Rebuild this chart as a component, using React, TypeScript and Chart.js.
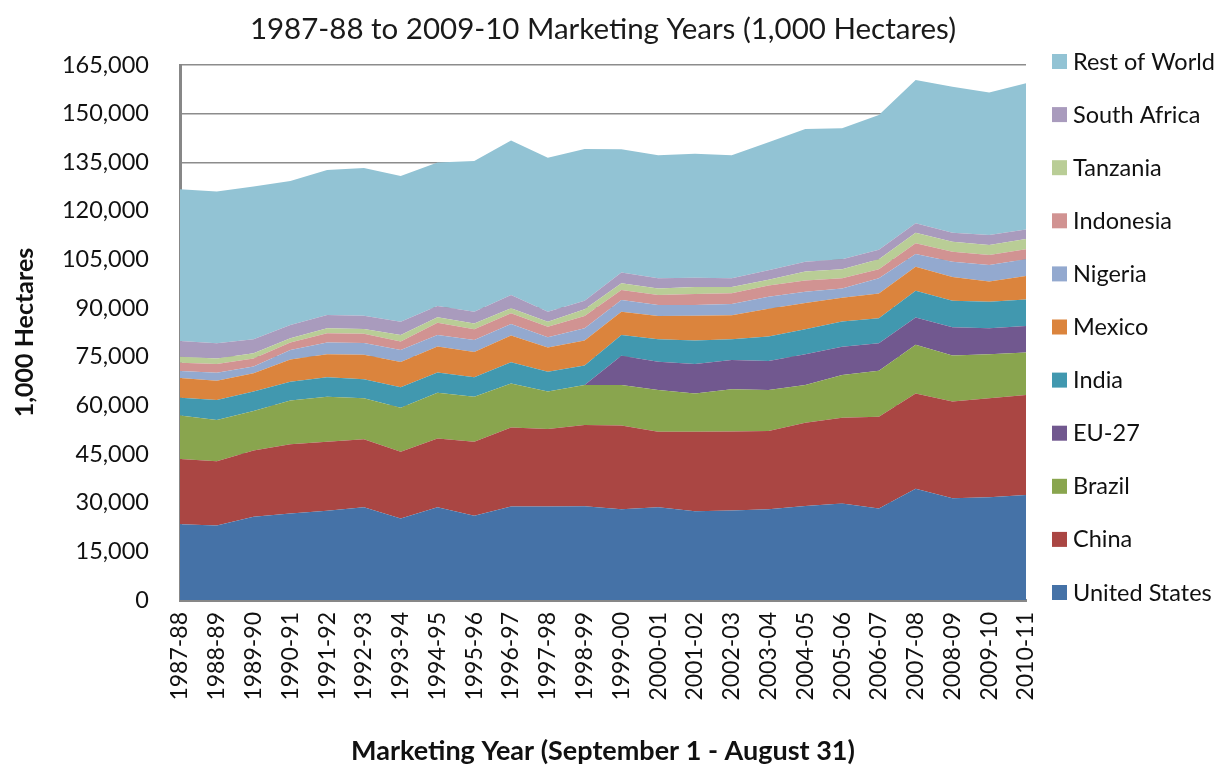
import React, { useEffect, useRef } from "react";
import { Chart, registerables } from "chart.js";

Chart.register(...registerables);

const categories = [
  "1987-88", "1988-89", "1989-90", "1990-91", "1991-92", "1992-93", "1993-94", "1994-95",
  "1995-96", "1996-97", "1997-98", "1998-99", "1999-00", "2000-01", "2001-02", "2002-03",
  "2003-04", "2004-05", "2005-06", "2006-07", "2007-08", "2008-09", "2009-10", "2010-11",
];

// values in 1,000 hectares
const unitedStates = [23400, 23000, 25700, 26700, 27500, 28600, 25100, 28600, 26000, 28800, 28800, 28900, 28000, 28600, 27400, 27600, 28000, 29000, 29800, 28200, 34300, 31400, 31700, 32400];
const china = [20100, 19800, 20400, 21300, 21300, 21000, 20600, 21200, 22800, 24400, 23900, 25100, 25800, 23300, 24500, 24400, 24100, 25700, 26400, 28300, 29400, 29800, 30500, 30800];
const brazil = [13400, 12700, 12200, 13500, 13900, 12600, 13600, 14100, 13900, 13600, 11600, 12300, 12500, 12900, 11800, 13000, 12700, 11600, 13200, 14200, 15000, 14200, 13600, 13100];
const eu27 = [0, 0, 0, 0, 0, 0, 0, 0, 0, 0, 0, 0, 9000, 8700, 9100, 9000, 8900, 9500, 8700, 8500, 8400, 8700, 8000, 8200];
const india = [5500, 6200, 6000, 5800, 6000, 5900, 6300, 6300, 6000, 6500, 6100, 6000, 6400, 6900, 7200, 6400, 7600, 7700, 7800, 7700, 8300, 8200, 8200, 8200];
const mexico = [6100, 5900, 5600, 6900, 7100, 7500, 7800, 8000, 7800, 8300, 7500, 7700, 7200, 7200, 7700, 7400, 8500, 8100, 7300, 7600, 7400, 7300, 6200, 7200];
const nigeria = [2100, 2500, 2100, 2900, 3600, 3700, 3700, 3500, 3700, 3500, 3100, 3800, 3600, 3400, 3300, 3500, 3700, 3500, 2900, 4700, 3900, 4700, 5100, 5200];
const indonesia = [2600, 2700, 2500, 2300, 2900, 2800, 2600, 3800, 3300, 3300, 3300, 3800, 3100, 3100, 3400, 3300, 3500, 3400, 3100, 2800, 3300, 3100, 3100, 3100];
const tanzania = [1800, 1700, 1600, 1300, 1500, 1500, 2000, 1700, 1800, 1600, 1500, 2100, 2100, 2000, 2100, 1900, 1800, 2800, 2800, 3100, 3300, 3100, 3100, 3100];
const southAfrica = [4900, 4700, 4300, 4100, 4100, 4100, 4100, 3500, 3600, 4100, 3100, 2600, 3300, 3100, 2900, 2700, 2900, 3000, 3100, 2900, 2900, 2800, 3100, 3000];
const restOfWorld = [46800, 46800, 47100, 44400, 44700, 45500, 45000, 44200, 46500, 47600, 47500, 46800, 38000, 38000, 38200, 38000, 39500, 41000, 40400, 41600, 44200, 45000, 43900, 45100];

const seriesNames = ["United States", "China", "Brazil", "EU-27", "India", "Mexico", "Nigeria", "Indonesia", "Tanzania", "South Africa", "Rest of World"];
const seriesValues = [unitedStates, china, brazil, eu27, india, mexico, nigeria, indonesia, tanzania, southAfrica, restOfWorld];
const seriesColors = ["#4572A7", "#AA4643", "#89A54E", "#71588F", "#4198AF", "#DB843D", "#93A9CF", "#D19392", "#B9CD96", "#A99BBD", "#92C3D4"];

const yTickStep = 15000;
const yMax = 165000;

const FONT = 'Lato, "Open Sans", sans-serif';

const sideLegend = {
  id: "sideLegend",
  afterDraw(chart: any) {
    const { ctx, chartArea } = chart;
    const ds = chart.data.datasets;
    const n = ds.length;
    const start = chartArea.top - 4;
    const step = (chartArea.bottom - chartArea.top - 4) / (n - 1);
    const x0 = chartArea.right + 26;
    ctx.save();
    ctx.font = `23.5px ${FONT}`;
    ctx.textBaseline = "middle";
    ctx.textAlign = "left";
    for (let k = 0; k < n; k++) {
      const d = ds[n - 1 - k];
      const y = start + k * step;
      ctx.fillStyle = d.backgroundColor;
      ctx.fillRect(x0, y - 7, 15, 15);
      ctx.fillStyle = "#111";
      ctx.fillText(d.label, x0 + 21, y + 1);
    }
    ctx.restore();
  },
};

export default function App() {
  const ref = useRef<HTMLCanvasElement | null>(null);

  useEffect(() => {
    document.body.style.margin = "0";
    const canvas = ref.current;
    if (!canvas) return;
    Chart.defaults.font.family = FONT;
    const chart = new Chart(canvas, {
      type: "line",
      data: {
        labels: categories,
        datasets: seriesValues.map((vals, i) => ({
          label: seriesNames[i],
          data: vals,
          backgroundColor: seriesColors[i],
          borderColor: seriesColors[i],
          borderWidth: 0,
          pointRadius: 0,
          fill: i === 0 ? "origin" : "-1",
          tension: 0,
        })),
      },
      options: {
        responsive: false,
        animation: false,
        layout: { padding: { left: 0, right: 193, top: 0, bottom: 0 } },
        plugins: {
          legend: { display: false },
          tooltip: { enabled: false },
          title: {
            display: true,
            fullSize: false,
            text: "1987-88 to 2009-10 Marketing Years (1,000 Hectares)",
            color: "#1a1a1a",
            font: { size: 29.5, weight: "normal", family: FONT },
            padding: { top: 12, bottom: 17.6 },
          },
        },
        scales: {
          x: {
            offset: false,
            grid: { display: false, drawTicks: false },
            border: { display: true, color: "#878787", width: 3 },
            ticks: {
              color: "#111",
              font: { size: 23, family: FONT },
              minRotation: 90,
              maxRotation: 90,
              autoSkip: false,
              padding: 12,
            },
            title: {
              display: true,
              text: "Marketing Year (September 1 - August 31)",
              color: "#111",
              font: { size: 27, weight: "bold", family: FONT },
              padding: { top: 0, bottom: 0 },
            },
            afterFit(scale: any) {
              scale.height = 167;
            },
          },
          y: {
            stacked: true,
            min: 0,
            max: yMax,
            grid: { color: "#8c8c8c", lineWidth: 1.5, drawTicks: false },
            border: { display: true, color: "#878787", width: 3 },
            ticks: {
              stepSize: yTickStep,
              color: "#111",
              font: { size: 23.5, family: FONT },
              padding: 31,
              callback: (v: any) => Number(v).toLocaleString("en-US"),
            },
            title: {
              display: true,
              text: "1,000 Hectares",
              color: "#111",
              font: { size: 25, weight: "bold", family: FONT },
              padding: { top: 10, bottom: 0 },
            },
            afterFit(scale: any) {
              scale.width = 180;
            },
          },
        },
      },
      plugins: [sideLegend],
    });
    return () => chart.destroy();
  }, []);

  return (
    <div style={{ width: 1219, height: 767, position: "relative" }}>
      <canvas ref={ref} width={1219} height={767} />
    </div>
  );
}
